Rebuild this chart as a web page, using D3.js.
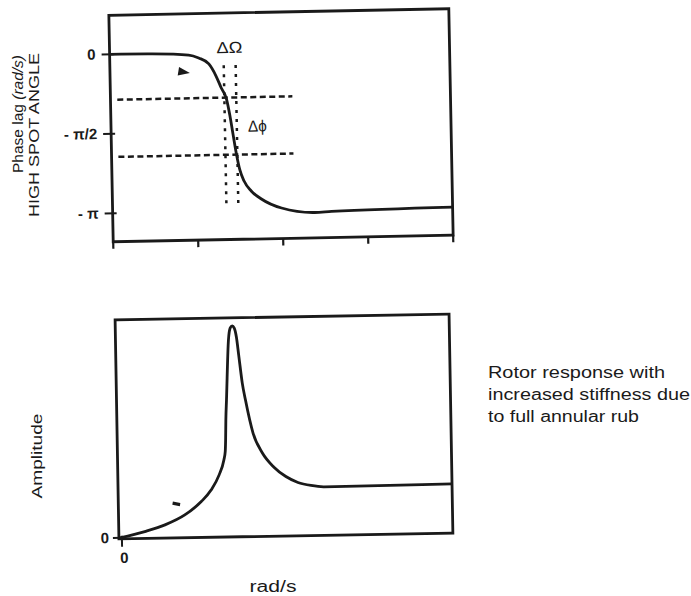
<!DOCTYPE html>
<html>
<head>
<meta charset="utf-8">
<script src="https://cdn.jsdelivr.net/npm/d3@7/dist/d3.min.js"></script>
<style>
  body { margin: 0; background: #fff; }
  text { font-family: "Liberation Sans", Arial, sans-serif; fill: #1a1a1a; }
</style>
</head>
<body>
<svg id="chart" width="691" height="596"></svg>
<script>
// ---- data (speed in arbitrary rad/s units 0..4) ----
const speedTicks = [0, 1, 2, 3, 4];
const phaseTicks = [0, -Math.PI / 2, -Math.PI];
const phaseTickLabels = ["0", "- \u03C0/2", "- \u03C0"];

// phase lag (high spot angle) vs speed
const phaseSpeed = [0, 0.5, 0.93, 1.047, 1.165, 1.247, 1.306, 1.365, 1.4, 1.435, 1.471, 1.506, 1.553, 1.635, 1.753, 1.988, 2.376, 2.576, 4.0];
const phaseLag   = [0, -0.01, -0.045, -0.107, -0.229, -0.47, -0.709, -0.929, -1.245, -1.642, -2.037, -2.335, -2.555, -2.754, -2.916, -3.102, -3.203, -3.189, -3.148];

// amplitude vs speed
const ampSpeed  = [0, 0.3, 0.544, 0.784, 0.985, 1.105, 1.205, 1.265, 1.283, 1.29, 1.297, 1.309, 1.345, 1.369, 1.393, 1.417, 1.441, 1.465, 1.502, 1.537, 1.621, 1.729, 1.862, 2.006, 2.15, 2.306, 2.462, 4.0];
const amplitude = [0, 0.027, 0.056, 0.1, 0.16, 0.212, 0.281, 0.349, 0.387, 0.44, 0.532, 0.624, 0.899, 0.954, 0.963, 0.953, 0.912, 0.829, 0.700, 0.622, 0.470, 0.378, 0.313, 0.268, 0.240, 0.225, 0.218, 0.221];

// half power band: delta Omega (speeds) and delta phi (phases)
const bandSpeed = [1.34, 1.48];
const bandPhase = [-0.90, -2.03];
const bandDashSpeed = [0.08, 2.14];   // extent of the dashed phase lines
const bandDotPhase = [-0.26, -3.08];  // extent of the dotted speed lines

const noteLines = ["Rotor response with", "increased stiffness due", "to full annular rub"];
const noteWidths = [177, 202, 151];

const svg = d3.select("#chart");
const ink = "#1a1a1a";

// ================= top panel: phase =================
const xTop = d3.scaleLinear().domain([0, 4]).range([111, 451]);
const yTop = d3.scaleLinear().domain([-Math.PI, 0]).range([210, 51]);
const topBox = { y0: 12, y1: 238.5 };

const gTop = svg.append("g").attr("transform", "rotate(-1.1, 281, 125)");

gTop.append("rect")
    .attr("x", xTop.range()[0]).attr("y", topBox.y0)
    .attr("width", xTop.range()[1] - xTop.range()[0])
    .attr("height", topBox.y1 - topBox.y0)
    .attr("fill", "none").attr("stroke", ink).attr("stroke-width", 2.8);

// ticks under the box
gTop.selectAll(".xt").data(speedTicks).join("line")
    .attr("x1", d => xTop(d)).attr("x2", d => xTop(d))
    .attr("y1", topBox.y1).attr("y2", topBox.y1 + 7)
    .attr("stroke", ink).attr("stroke-width", 2.2);

// phase ticks and labels
gTop.selectAll(".yt").data(phaseTicks).join("line")
    .attr("x1", xTop(0) - 8).attr("x2", xTop(0) + 4)
    .attr("y1", d => yTop(d)).attr("y2", d => yTop(d))
    .attr("stroke", ink).attr("stroke-width", 2);

gTop.selectAll(".yl").data(phaseTicks).join("text")
    .attr("x", xTop(0) - 14).attr("y", d => yTop(d) + 5)
    .attr("text-anchor", "end")
    .attr("font-size", 15).attr("font-weight", "bold")
    .text((d, i) => phaseTickLabels[i]);

// dashed phase band lines
gTop.selectAll(".hd").data(bandPhase).join("line")
    .attr("x1", xTop(bandDashSpeed[0])).attr("x2", xTop(bandDashSpeed[1]))
    .attr("y1", d => yTop(d)).attr("y2", d => yTop(d))
    .attr("stroke", ink).attr("stroke-width", 2.5)
    .attr("stroke-dasharray", "6,3.5");

// dotted speed band lines
gTop.selectAll(".vd").data(bandSpeed).join("line")
    .attr("x1", d => xTop(d)).attr("x2", d => xTop(d))
    .attr("y1", yTop(bandDotPhase[0])).attr("y2", yTop(bandDotPhase[1]))
    .attr("stroke", ink).attr("stroke-width", 2.5)
    .attr("stroke-dasharray", "3,6");

// phase curve
const phaseLine = d3.line()
    .x((d, i) => xTop(phaseSpeed[i]))
    .y(d => yTop(d))
    .curve(d3.curveMonotoneX);

gTop.append("path")
    .datum(phaseLag)
    .attr("d", phaseLine)
    .attr("fill", "none").attr("stroke", ink).attr("stroke-width", 2.8);

// arrow head drawn under the knee of the curve
gTop.append("path")
    .attr("d", d3.symbol().type(d3.symbolTriangle).size(40))
    .attr("transform", `translate(${xTop(0.85)},${yTop(-0.375)}) rotate(100) scale(0.9,1.4)`)
    .attr("fill", ink);

// band labels
gTop.append("text")
    .attr("x", d3.mean(bandSpeed, d => xTop(d)))
    .attr("y", yTop(0) + 1)
    .attr("text-anchor", "middle")
    .attr("font-size", 16)
    .attr("textLength", 26).attr("lengthAdjust", "spacingAndGlyphs")
    .text("\u0394\u03A9");

gTop.append("text")
    .attr("x", xTop(bandSpeed[1]) + 11)
    .attr("y", d3.mean(bandPhase, d => yTop(d)) + 6)
    .attr("font-size", 16)
    .attr("textLength", 19).attr("lengthAdjust", "spacingAndGlyphs")
    .text("\u0394\u03D5");

// axis title (two lines, rotated)
const t1 = svg.append("text")
    .attr("transform", "translate(23,55) rotate(-90)")
    .attr("text-anchor", "end")
    .attr("font-size", 14)
    .attr("textLength", 118).attr("lengthAdjust", "spacingAndGlyphs");
t1.append("tspan").text("Phase lag ");
t1.append("tspan").attr("font-style", "italic").text("(rad/s)");

svg.append("text")
    .attr("transform", "translate(39,53) rotate(-90)")
    .attr("text-anchor", "end")
    .attr("font-size", 14)
    .attr("textLength", 164).attr("lengthAdjust", "spacingAndGlyphs")
    .text("HIGH SPOT ANGLE");

// ================= bottom panel: amplitude =================
const xBot = d3.scaleLinear().domain([0, 4]).range([118, 451]);
const yBot = d3.scaleLinear().domain([0, 1]).range([535, 317]);
const botBox = { x0: 117, y0: 317, y1: 536 };

const gBot = svg.append("g").attr("transform", "rotate(-1.0, 284, 427)");

gBot.append("rect")
    .attr("x", botBox.x0).attr("y", botBox.y0)
    .attr("width", xBot.range()[1] - botBox.x0)
    .attr("height", botBox.y1 - botBox.y0)
    .attr("fill", "none").attr("stroke", ink).attr("stroke-width", 2.8);

// zero ticks
gBot.append("line")
    .attr("x1", xBot(0) - 7).attr("x2", xBot(0) + 2)
    .attr("y1", yBot(0)).attr("y2", yBot(0))
    .attr("stroke", ink).attr("stroke-width", 2);
gBot.append("line")
    .attr("x1", xBot(0) + 2).attr("x2", xBot(0) + 2)
    .attr("y1", botBox.y1 - 3).attr("y2", botBox.y1 + 8)
    .attr("stroke", ink).attr("stroke-width", 2);

gBot.append("text")
    .attr("x", xBot(0) - 11).attr("y", yBot(0) + 5)
    .attr("text-anchor", "end")
    .attr("font-size", 15).attr("font-weight", "bold")
    .text("0");
gBot.append("text")
    .attr("x", xBot(0) + 4).attr("y", botBox.y1 + 24)
    .attr("text-anchor", "middle")
    .attr("font-size", 15).attr("font-weight", "bold")
    .text("0");

const ampLine = d3.line()
    .x((d, i) => xBot(ampSpeed[i]))
    .y(d => yBot(d))
    .curve(d3.curveMonotoneX);

gBot.append("path")
    .datum(amplitude)
    .attr("d", ampLine)
    .attr("fill", "none").attr("stroke", ink).attr("stroke-width", 2.8);

// small stray mark beside the rising branch
gBot.append("line")
    .attr("x1", xBot(0.64)).attr("x2", xBot(0.73))
    .attr("y1", yBot(0.155)).attr("y2", yBot(0.148))
    .attr("stroke", ink).attr("stroke-width", 3.2);

svg.append("text")
    .attr("transform", "translate(42,456) rotate(-90)")
    .attr("text-anchor", "middle")
    .attr("font-size", 15)
    .attr("textLength", 85).attr("lengthAdjust", "spacingAndGlyphs")
    .text("Amplitude");

svg.append("text")
    .attr("x", 273).attr("y", 592)
    .attr("text-anchor", "middle")
    .attr("font-size", 16)
    .attr("textLength", 47).attr("lengthAdjust", "spacingAndGlyphs")
    .text("rad/s");

// side note
svg.selectAll(".note").data(noteLines).join("text")
    .attr("x", 488).attr("y", (d, i) => 378 + i * 22)
    .attr("font-size", 16)
    .attr("textLength", (d, i) => noteWidths[i]).attr("lengthAdjust", "spacingAndGlyphs")
    .text(d => d);
</script>
</body>
</html>
